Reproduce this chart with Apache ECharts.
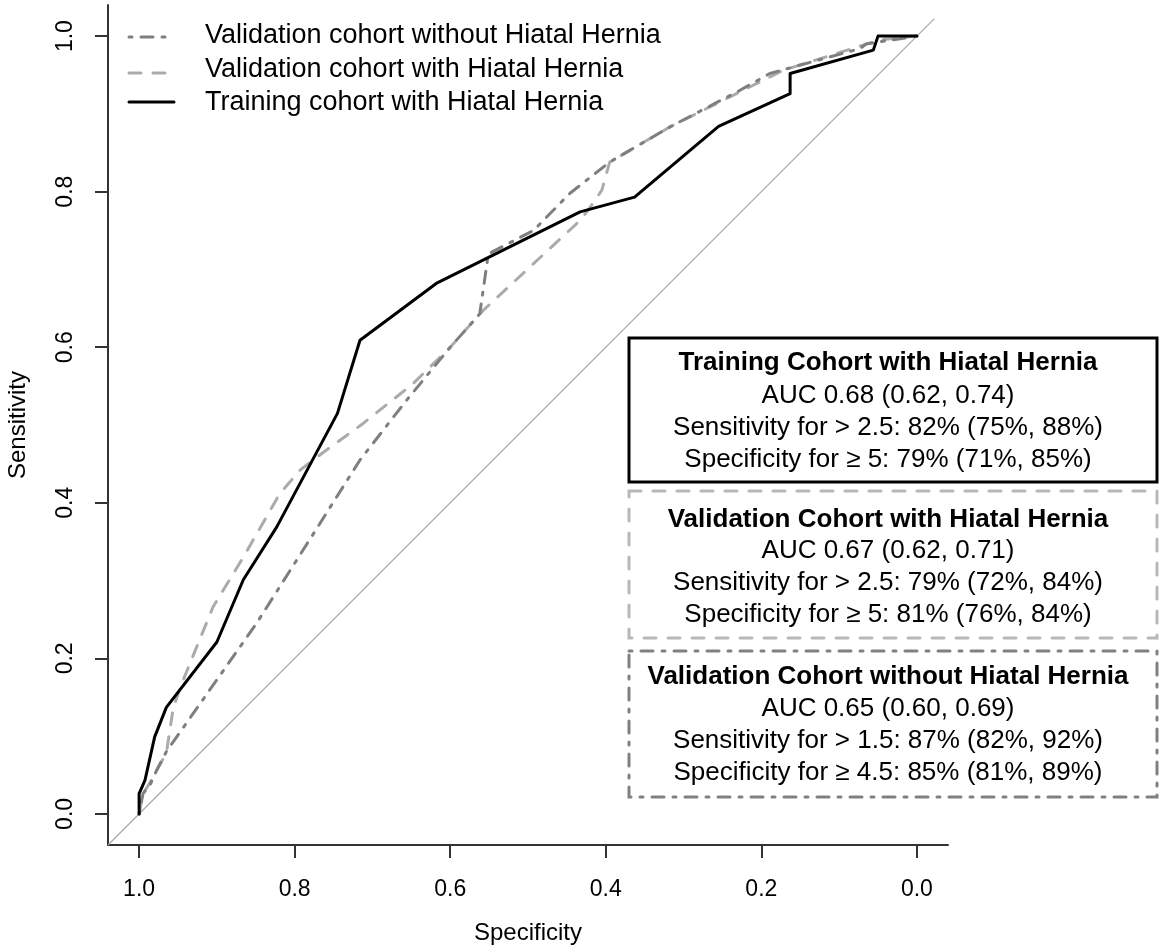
<!DOCTYPE html>
<html><head><meta charset="utf-8">
<script src="https://cdn.jsdelivr.net/npm/echarts@6/dist/echarts.min.js"></script>
<style>html,body{margin:0;padding:0;background:#fff}#c{width:1160px;height:950px}</style>
</head><body><div id="c"></div>
<script>
// ---- data ----
const tickValues = [0, 0.2, 0.4, 0.6, 0.8, 1.0];

const trainSpec = [1.0, 1.0, 0.9925, 0.980, 0.965, 0.900, 0.866, 0.823, 0.745, 0.716, 0.618, 0.433, 0.363, 0.255, 0.163, 0.163, 0.056, 0.050, 0.0];
const trainSens = [0.0, 0.026, 0.043, 0.099, 0.137, 0.221, 0.301, 0.369, 0.515, 0.609, 0.682, 0.774, 0.793, 0.884, 0.926, 0.952, 0.982, 1.0, 1.0];

const valHHSpec = [1.0, 0.995, 0.988, 0.965, 0.956, 0.945, 0.905, 0.866, 0.819, 0.793, 0.763, 0.712, 0.648, 0.600, 0.558, 0.433, 0.420, 0.405, 0.395, 0.318, 0.172, 0.048, 0.0];
const valHHSens = [0.0, 0.026, 0.037, 0.078, 0.137, 0.168, 0.266, 0.330, 0.412, 0.442, 0.465, 0.502, 0.553, 0.600, 0.647, 0.763, 0.780, 0.802, 0.838, 0.883, 0.956, 0.995, 1.0];

const valNoHHSpec = [1.0, 0.995, 0.986, 0.9775, 0.965, 0.849, 0.776, 0.716, 0.656, 0.600, 0.562, 0.551, 0.493, 0.446, 0.395, 0.318, 0.228, 0.189, 0.073, 0.065, 0.0];
const valNoHHSens = [0.0, 0.026, 0.037, 0.056, 0.080, 0.245, 0.360, 0.455, 0.532, 0.600, 0.643, 0.720, 0.750, 0.798, 0.838, 0.883, 0.930, 0.952, 0.984, 0.990, 1.0];

const diagSpec = [1.04, -0.0225];
const diagSens = [-0.04, 1.0225];

const legendLabels = ['Validation cohort without Hiatal Hernia', 'Validation cohort with Hiatal Hernia', 'Training cohort with Hiatal Hernia'];

const boxTitles = ['Training Cohort with Hiatal Hernia', 'Validation Cohort with Hiatal Hernia', 'Validation Cohort without Hiatal Hernia'];
const boxAUC = ['AUC 0.68 (0.62, 0.74)', 'AUC 0.67 (0.62, 0.71)', 'AUC 0.65 (0.60, 0.69)'];
const boxSens = ['Sensitivity for > 2.5: 82% (75%, 88%)', 'Sensitivity for > 2.5: 79% (72%, 84%)', 'Sensitivity for > 1.5: 87% (82%, 92%)'];
const boxSpec = ['Specificity for \u2265 5: 79% (71%, 85%)', 'Specificity for \u2265 5: 81% (76%, 84%)', 'Specificity for \u2265 4.5: 85% (81%, 89%)'];

// ---- styles ----
const FONT = '"Liberation Sans", Arial, Helvetica, sans-serif';
const C_TRAIN = '#000000', C_HH = '#ababab', C_NOHH = '#7f7f7f';
const DASH = [12, 12], DOTDASH = [3, 9, 12, 9];

function zip(a, b) { return a.map((v, i) => [v, b[i]]); }

const chart = echarts.init(document.getElementById('c'), null, { renderer: 'canvas' });

// legend (graphic)
const legendStyles = [
  { color: C_NOHH, dash: DOTDASH },
  { color: C_HH, dash: DASH },
  { color: C_TRAIN, dash: null }
];
const legendLineY = [37, 73, 102];
const legendTextY = [36, 70, 103];
const graphic = [];
legendLabels.forEach((lab, i) => {
  graphic.push({
    type: 'line', shape: { x1: 129, y1: legendLineY[i], x2: 174, y2: legendLineY[i] },
    style: { stroke: legendStyles[i].color, lineWidth: 3, lineDash: legendStyles[i].dash, lineCap: 'round' }
  });
  graphic.push({
    type: 'text', x: 205, y: legendTextY[i],
    style: { text: lab, font: '27px ' + FONT, fill: '#000', textVerticalAlign: 'middle', textAlign: 'left' }
  });
});

// info boxes
const boxes = [
  { y: 338, h: 144, stroke: '#000000', dash: null, lines: [363, 396, 428, 460] },
  { y: 491, h: 147, stroke: '#b8b8b8', dash: DASH, lines: [520, 551, 583, 615] },
  { y: 651, h: 146, stroke: '#808080', dash: DOTDASH, lines: [677, 709, 741, 773] }
];
boxes.forEach((b, i) => {
  graphic.push({
    type: 'rect', shape: { x: 629, y: b.y, width: 528, height: b.h },
    style: { fill: '#fff', stroke: b.stroke, lineWidth: 3, lineDash: b.dash, lineCap: 'round' }, z: 10
  });
  const texts = [boxTitles[i], boxAUC[i], boxSens[i], boxSpec[i]];
  texts.forEach((t, j) => {
    graphic.push({
      type: 'text', x: 888, y: b.lines[j], z: 11,
      style: { text: t, font: (j === 0 ? 'bold ' : '') + '26px ' + FONT, fill: '#000', textAlign: 'center', textVerticalAlign: 'middle' }
    });
  });
});

const axisCommon = {
  type: 'value', min: -0.04, max: 1.04,
  axisLine: { show: true, onZero: false, lineStyle: { color: '#333', width: 2 } },
  axisTick: { show: true, inside: false, length: 13, customValues: tickValues, lineStyle: { color: '#333', width: 2 } },
  splitLine: { show: false },
  nameLocation: 'middle',
  nameTextStyle: { fontFamily: FONT, fontSize: 24, color: '#000' }
};

chart.setOption({
  animation: false,
  backgroundColor: '#fff',
  grid: { left: 108, right: 212, top: 5, bottom: 105, containLabel: false, outerBoundsMode: 'none' },
  xAxis: Object.assign({}, axisCommon, {
    inverse: true, name: 'Specificity', nameGap: 76,
    axisLabel: { show: true, customValues: tickValues, margin: 33, fontFamily: FONT, fontSize: 23, color: '#000',
      formatter: v => v.toFixed(1) }
  }),
  yAxis: Object.assign({}, axisCommon, {
    name: 'Sensitivity', nameGap: 78,
    axisLabel: { show: true, customValues: tickValues, margin: 31, rotate: 90, fontFamily: FONT, fontSize: 23, color: '#000',
      formatter: v => v.toFixed(1) }
  }),
  series: [
    { type: 'line', name: 'diag', data: zip(diagSpec, diagSens), showSymbol: false, silent: true,
      lineStyle: { color: '#a8a8a8', width: 1.2 } },
    { type: 'line', name: legendLabels[1], data: zip(valHHSpec, valHHSens), showSymbol: false,
      lineStyle: { color: C_HH, width: 3, type: DASH, cap: 'round', join: 'round' } },
    { type: 'line', name: legendLabels[0], data: zip(valNoHHSpec, valNoHHSens), showSymbol: false,
      lineStyle: { color: C_NOHH, width: 3, type: DOTDASH, cap: 'round', join: 'round' } },
    { type: 'line', name: legendLabels[2], data: zip(trainSpec, trainSens), showSymbol: false,
      lineStyle: { color: C_TRAIN, width: 3, cap: 'round', join: 'round' } }
  ],
  graphic: graphic
});
</script>
</body></html>
